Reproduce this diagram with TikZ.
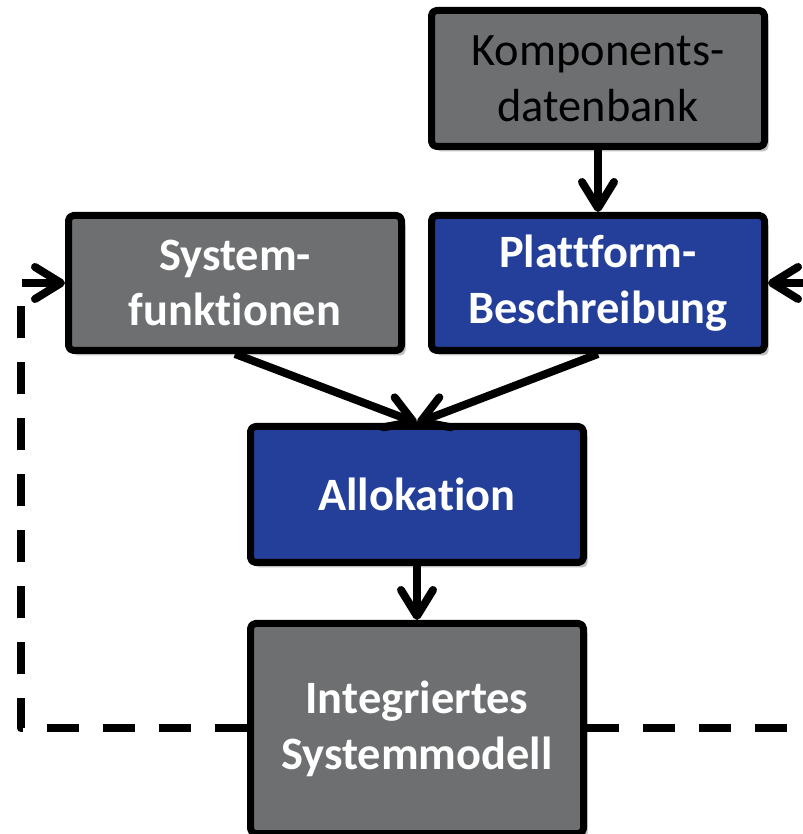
\documentclass[tikz,border=0pt]{standalone}
\usepackage{fontspec}
\setmainfont{Carlito}[Ligatures={NoCommon}]
\definecolor{slate}{HTML}{6D6F71}
\definecolor{royal}{HTML}{233F99}
\usepackage{tikz}
\usetikzlibrary{arrows.meta, shadows, calc}
\newcommand{\flow}[2]
{
	\draw[->] (#1.south) -- (#2.north)
}
\newcommand{\loopback}[3]
{
	\draw[backline, ->] (#1) -| (#2) -- (#3)
}

\begin{document}
\begin{tikzpicture}[
	box/.style={shape=rectangle, draw=black, line width=0.07cm,
		rounded corners=0.5mm, minimum width=3.33cm, align=center,
		font=\fontsize{13.2}{15.9}\selectfont,
		drop shadow={shadow xshift=0.04cm, shadow yshift=-0.05cm,
			fill=black, opacity=0.25}},
	greybox/.style={box, fill=slate, text=white, font=\fontsize{13.2}{15.9}\selectfont\bfseries},
	bluebox/.style={box, fill=royal, text=white, font=\fontsize{13.2}{15.9}\selectfont\bfseries},
	backline/.style={line width=0.08cm, dash pattern=on 0.32cm off 0.24cm},
	line width=0.08cm, line join=round,
	>={Straight Barb[length=2.6mm, width=3.2mm, round]}]

	\useasboundingbox (0, 0) rectangle (8.03, 8.34);

	\node[box, fill=slate, text=black, minimum height=1.36cm] at (5.98, 7.555) (komp){Komponents-\\datenbank};
	\node[greybox, minimum height=1.35cm] at (2.35, 5.51) (sysf){System-\\funktionen};
	\node[bluebox, minimum height=1.35cm] at (5.98, 5.51) (platt){Plattform-\\Beschreibung};
	\node[bluebox, minimum height=1.36cm] at (4.17, 3.395) (alloc){Allokation};
	\node[greybox, minimum height=2.10cm] at (4.17, 1.055) (integ){Integriertes\\Systemmodell};
	\coordinate (lback) at (0.21, 5.51);
	\coordinate (rback) at (8.12, 5.51);
	\flow{komp}{platt};
	\flow{sysf}{alloc};
	\flow{platt}{alloc};
	\flow{alloc}{integ};
	\loopback{integ.west}{lback}{sysf.west};
	\loopback{integ.east}{rback}{platt.east};
\end{tikzpicture}
\end{document}
